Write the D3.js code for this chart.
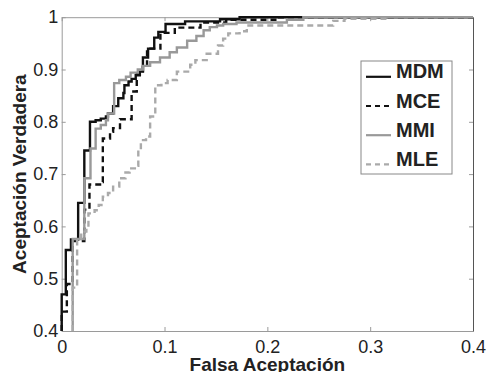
<!DOCTYPE html>
<html>
<head>
<meta charset="utf-8">
<script src="https://cdn.jsdelivr.net/npm/d3@7"></script>
<style>
  body { margin: 0; background: #fff; }
  svg { display: block; font-family: "Liberation Sans", Arial, sans-serif; }
</style>
</head>
<body>
<div id="chart"></div>
<script>
// ROC curves, [falsa aceptacion, aceptacion verdadera] step points
const mdm = [[0,0.40],[0,0.47],[0.004,0.555],[0.009,0.575],[0.016,0.645],[0.022,0.745],[0.0275,0.80],[0.033,0.803],[0.038,0.806],[0.043,0.81],[0.045,0.816],[0.050,0.83],[0.055,0.845],[0.060,0.855],[0.061,0.870],[0.065,0.877],[0.068,0.882],[0.072,0.889],[0.076,0.896],[0.079,0.923],[0.084,0.94],[0.09,0.961],[0.094,0.972],[0.101,0.987],[0.12,0.992],[0.154,0.996],[0.173,1.0],[0.4,1.0]]
const mce = [[0,0.40],[0,0.437],[0.005,0.49],[0.0107,0.572],[0.022,0.632],[0.027,0.68],[0.039,0.685],[0.040,0.768],[0.047,0.781],[0.050,0.788],[0.0567,0.805],[0.068,0.858],[0.073,0.893],[0.079,0.905],[0.083,0.94],[0.096,0.97],[0.11,0.98],[0.135,0.99],[0.16,0.995],[0.21,1.0],[0.4,1.0]]
const mmi = [[0.0107,0.40],[0.0107,0.576],[0.022,0.692],[0.028,0.749],[0.033,0.787],[0.038,0.794],[0.043,0.803],[0.045,0.816],[0.051,0.874],[0.056,0.88],[0.0625,0.886],[0.067,0.894],[0.074,0.90],[0.079,0.907],[0.086,0.914],[0.0956,0.923],[0.105,0.933],[0.112,0.942],[0.122,0.955],[0.131,0.964],[0.138,0.975],[0.144,0.981],[0.151,0.984],[0.157,0.987],[0.170,0.990],[0.219,0.995],[0.235,1.0],[0.4,1.0]]
const mle = [[0.0107,0.40],[0.0107,0.483],[0.015,0.577],[0.019,0.59],[0.024,0.599],[0.026,0.625],[0.032,0.631],[0.036,0.641],[0.040,0.657],[0.045,0.664],[0.050,0.676],[0.056,0.692],[0.062,0.703],[0.066,0.711],[0.073,0.716],[0.0745,0.746],[0.077,0.765],[0.082,0.772],[0.086,0.81],[0.091,0.870],[0.097,0.874],[0.103,0.88],[0.112,0.896],[0.125,0.909],[0.130,0.918],[0.141,0.93],[0.152,0.946],[0.157,0.959],[0.162,0.969],[0.173,0.973],[0.18,0.984],[0.264,0.993],[0.275,0.997],[0.316,1.0]]

const seriesNames = ["MDM", "MCE", "MMI", "MLE"]
const xTicks = [0, 0.1, 0.2, 0.3, 0.4]
const yTicks = [0.4, 0.5, 0.6, 0.7, 0.8, 0.9, 1]

const styles = {
  MDM: { color: "#111", dash: null },
  MCE: { color: "#111", dash: "6,4" },
  MMI: { color: "#999", dash: null },
  MLE: { color: "#aaa", dash: "6,4" }
}
const dataByName = { MDM: mdm, MCE: mce, MMI: mmi, MLE: mle }

const totalWidth = 488, totalHeight = 372
const plot = { left: 61.7, right: 473, top: 17.2, bottom: 331 }

const svg = d3.select("div#chart").append("svg").attr("width", totalWidth).attr("height", totalHeight)

const x = d3.scaleLinear().domain([0, 0.4]).range([plot.left, plot.right])
const y = d3.scaleLinear().domain([0.4, 1]).range([plot.bottom, plot.top])

// clip
svg.append("clipPath").attr("id", "clip").append("rect")
  .attr("x", plot.left - 2).attr("y", plot.top - 2)
  .attr("width", plot.right - plot.left + 4).attr("height", plot.bottom - plot.top + 4)

// ejes
const axisColor = "#9a9a9a"
const xAxisGroup = svg.append("g").attr("transform", `translate(0, ${plot.bottom})`)
  .call(d3.axisBottom(x).tickValues(xTicks).tickFormat(d3.format("")).tickSizeInner(-4).tickSizeOuter(0).tickPadding(9))
const yAxisGroup = svg.append("g").attr("transform", `translate(${plot.left}, 0)`)
  .call(d3.axisLeft(y).tickValues(yTicks).tickFormat(d3.format("")).tickSizeInner(-4).tickSizeOuter(0).tickPadding(3.5))
const topGroup = svg.append("g").attr("transform", `translate(0, ${plot.top})`)
  .call(d3.axisTop(x).tickValues(xTicks).tickFormat("").tickSizeInner(-4).tickSizeOuter(0))
const rightGroup = svg.append("g").attr("transform", `translate(${plot.right}, 0)`)
  .call(d3.axisRight(y).tickValues(yTicks).tickFormat("").tickSizeInner(-4).tickSizeOuter(0))

svg.selectAll(".domain, .tick line").attr("stroke", axisColor).attr("stroke-width", 1)
rightGroup.select(".domain").attr("stroke", "#555")
svg.selectAll(".tick text").attr("font-size", 18).attr("fill", "#222")
  .attr("font-family", "'Liberation Sans', Arial, sans-serif")

// curvas
const line = d3.line().x(d => x(d[0])).y(d => y(d[1])).curve(d3.curveStepAfter)
const curves = svg.append("g").attr("clip-path", "url(#clip)")
seriesNames.forEach(name => {
  curves.append("path")
    .attr("d", line(dataByName[name]))
    .attr("fill", "none")
    .attr("stroke", styles[name].color)
    .attr("stroke-width", 2.4)
    .attr("stroke-dasharray", styles[name].dash)
})

// titulos
svg.append("text").attr("x", (plot.left + plot.right) / 2).attr("y", 371)
  .attr("text-anchor", "middle").attr("font-size", 19).attr("font-weight", "bold").attr("fill", "#222")
  .text("Falsa Aceptación")
svg.append("text").attr("transform", `translate(25.5, ${(plot.top + plot.bottom) / 2}) rotate(-90)`)
  .attr("text-anchor", "middle").attr("font-size", 19).attr("font-weight", "bold").attr("fill", "#222")
  .text("Aceptación Verdadera")

// leyenda
const legend = svg.append("g")
legend.append("rect").attr("x", 361).attr("y", 61).attr("width", 91).attr("height", 113)
  .attr("fill", "#fff").attr("stroke", "#888").attr("stroke-width", 1)
seriesNames.forEach((name, i) => {
  const base = 78.3 + i * 29.2
  legend.append("line").attr("x1", 366).attr("x2", 391).attr("y1", base - 1.5).attr("y2", base - 1.5)
    .attr("stroke", styles[name].color).attr("stroke-width", 2.2)
    .attr("stroke-dasharray", styles[name].dash ? "5,4" : null)
  legend.append("text").attr("x", 396).attr("y", base)
    .attr("font-size", 20).attr("font-weight", "bold").attr("fill", "#222").text(name)
})
</script>
</body>
</html>
